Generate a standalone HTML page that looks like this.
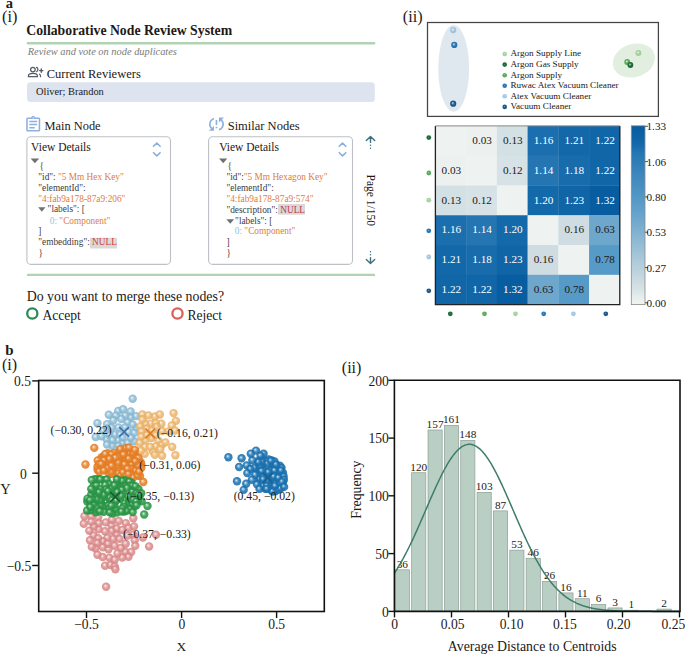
<!DOCTYPE html>
<html><head><meta charset="utf-8"><style>
html,body{margin:0;padding:0;background:#fff;}
body{width:685px;height:654px;overflow:hidden;}
svg{display:block;font-family:"Liberation Serif",serif;}
</style></head><body>
<svg width="685" height="654" viewBox="0 0 685 654">
<defs><radialGradient id="s_lg" cx="0.5" cy="0.5" r="0.5" fx="0.4" fy="0.36"><stop offset="0" stop-color="#f6fbf6"/><stop offset="0.25" stop-color="#cae5c6"/><stop offset="0.55" stop-color="#a6d3a0"/><stop offset="1" stop-color="#9cc696"/></radialGradient><radialGradient id="d_lg" cx="0.5" cy="0.5" r="0.5" fx="0.42" fy="0.38"><stop offset="0" stop-color="#cee7cb"/><stop offset="0.3" stop-color="#a6d3a0"/><stop offset="1" stop-color="#a6d3a0"/></radialGradient><radialGradient id="s_dg" cx="0.5" cy="0.5" r="0.5" fx="0.4" fy="0.36"><stop offset="0" stop-color="#e8f0eb"/><stop offset="0.25" stop-color="#78a689"/><stop offset="0.55" stop-color="#1e6b3a"/><stop offset="1" stop-color="#1c6537"/></radialGradient><radialGradient id="d_dg" cx="0.5" cy="0.5" r="0.5" fx="0.42" fy="0.38"><stop offset="0" stop-color="#83ae93"/><stop offset="0.3" stop-color="#1e6b3a"/><stop offset="1" stop-color="#1e6b3a"/></radialGradient><radialGradient id="s_mg" cx="0.5" cy="0.5" r="0.5" fx="0.4" fy="0.36"><stop offset="0" stop-color="#eef7ee"/><stop offset="0.25" stop-color="#9cce9c"/><stop offset="0.55" stop-color="#5aae5a"/><stop offset="1" stop-color="#55a455"/></radialGradient><radialGradient id="d_mg" cx="0.5" cy="0.5" r="0.5" fx="0.42" fy="0.38"><stop offset="0" stop-color="#a4d2a4"/><stop offset="0.3" stop-color="#5aae5a"/><stop offset="1" stop-color="#5aae5a"/></radialGradient><radialGradient id="s_rb" cx="0.5" cy="0.5" r="0.5" fx="0.4" fy="0.36"><stop offset="0" stop-color="#eaf2f8"/><stop offset="0.25" stop-color="#7faed4"/><stop offset="0.55" stop-color="#2a78b8"/><stop offset="1" stop-color="#2771ad"/></radialGradient><radialGradient id="d_rb" cx="0.5" cy="0.5" r="0.5" fx="0.42" fy="0.38"><stop offset="0" stop-color="#8ab5d8"/><stop offset="0.3" stop-color="#2a78b8"/><stop offset="1" stop-color="#2a78b8"/></radialGradient><radialGradient id="s_lb" cx="0.5" cy="0.5" r="0.5" fx="0.4" fy="0.36"><stop offset="0" stop-color="#f6fafc"/><stop offset="0.25" stop-color="#c8dfee"/><stop offset="0.55" stop-color="#a3c9e3"/><stop offset="1" stop-color="#99bdd5"/></radialGradient><radialGradient id="d_lb" cx="0.5" cy="0.5" r="0.5" fx="0.42" fy="0.38"><stop offset="0" stop-color="#cce1f0"/><stop offset="0.3" stop-color="#a3c9e3"/><stop offset="1" stop-color="#a3c9e3"/></radialGradient><radialGradient id="s_db" cx="0.5" cy="0.5" r="0.5" fx="0.4" fy="0.36"><stop offset="0" stop-color="#e9eef3"/><stop offset="0.25" stop-color="#799cb9"/><stop offset="0.55" stop-color="#1f5a8a"/><stop offset="1" stop-color="#1d5582"/></radialGradient><radialGradient id="d_db" cx="0.5" cy="0.5" r="0.5" fx="0.42" fy="0.38"><stop offset="0" stop-color="#84a4bf"/><stop offset="0.3" stop-color="#1f5a8a"/><stop offset="1" stop-color="#1f5a8a"/></radialGradient><linearGradient id="cbar" x1="0" y1="0" x2="0" y2="1"><stop offset="0.0000" stop-color="#075c9f"/><stop offset="0.0167" stop-color="#095ea1"/><stop offset="0.0333" stop-color="#0b60a3"/><stop offset="0.0500" stop-color="#0d62a4"/><stop offset="0.0667" stop-color="#0f64a6"/><stop offset="0.0833" stop-color="#1166a8"/><stop offset="0.1000" stop-color="#1569aa"/><stop offset="0.1167" stop-color="#196dad"/><stop offset="0.1333" stop-color="#1f71af"/><stop offset="0.1500" stop-color="#2576b3"/><stop offset="0.1667" stop-color="#2878b4"/><stop offset="0.1833" stop-color="#2b7bb5"/><stop offset="0.2000" stop-color="#2f7db6"/><stop offset="0.2167" stop-color="#327fb8"/><stop offset="0.2333" stop-color="#3581b9"/><stop offset="0.2500" stop-color="#3884ba"/><stop offset="0.2667" stop-color="#3b86bc"/><stop offset="0.2833" stop-color="#3e88bd"/><stop offset="0.3000" stop-color="#418abe"/><stop offset="0.3167" stop-color="#448dbf"/><stop offset="0.3333" stop-color="#478fc1"/><stop offset="0.3500" stop-color="#4a91c2"/><stop offset="0.3667" stop-color="#4d94c3"/><stop offset="0.3833" stop-color="#5096c5"/><stop offset="0.4000" stop-color="#5498c6"/><stop offset="0.4167" stop-color="#579ac7"/><stop offset="0.4333" stop-color="#5a9cc8"/><stop offset="0.4500" stop-color="#5e9ec9"/><stop offset="0.4667" stop-color="#61a0c9"/><stop offset="0.4833" stop-color="#65a2ca"/><stop offset="0.5000" stop-color="#68a4cb"/><stop offset="0.5167" stop-color="#6ca6cc"/><stop offset="0.5333" stop-color="#70a8cc"/><stop offset="0.5500" stop-color="#75abcd"/><stop offset="0.5667" stop-color="#79adcf"/><stop offset="0.5833" stop-color="#7eb0d0"/><stop offset="0.6000" stop-color="#82b2d1"/><stop offset="0.6167" stop-color="#87b5d2"/><stop offset="0.6333" stop-color="#8bb7d3"/><stop offset="0.6500" stop-color="#90bad4"/><stop offset="0.6667" stop-color="#95bcd5"/><stop offset="0.6833" stop-color="#99bfd6"/><stop offset="0.7000" stop-color="#9ec1d7"/><stop offset="0.7167" stop-color="#a2c4d8"/><stop offset="0.7333" stop-color="#a7c6d9"/><stop offset="0.7500" stop-color="#abc9da"/><stop offset="0.7667" stop-color="#b0cbdb"/><stop offset="0.7833" stop-color="#b5cedc"/><stop offset="0.8000" stop-color="#b9d0dd"/><stop offset="0.8167" stop-color="#bed3de"/><stop offset="0.8333" stop-color="#c2d5df"/><stop offset="0.8500" stop-color="#c7d8e0"/><stop offset="0.8667" stop-color="#cbdae1"/><stop offset="0.8833" stop-color="#d0dde2"/><stop offset="0.9000" stop-color="#d3e0e4"/><stop offset="0.9167" stop-color="#d8e3e6"/><stop offset="0.9333" stop-color="#dde7e9"/><stop offset="0.9500" stop-color="#e3ebec"/><stop offset="0.9667" stop-color="#e8efee"/><stop offset="0.9833" stop-color="#edf1f0"/><stop offset="1.0000" stop-color="#eef2f1"/></linearGradient><radialGradient id="c_pink" cx="0.5" cy="0.5" r="0.5" fx="0.4" fy="0.36"><stop offset="0" stop-color="#fcf4f4"/><stop offset="0.25" stop-color="#ecbbbb"/><stop offset="0.55" stop-color="#df8e8e"/><stop offset="1" stop-color="#d28585"/></radialGradient><radialGradient id="c_lblue" cx="0.5" cy="0.5" r="0.5" fx="0.4" fy="0.36"><stop offset="0" stop-color="#f4f8fb"/><stop offset="0.25" stop-color="#bbd8e8"/><stop offset="0.55" stop-color="#8ebed8"/><stop offset="1" stop-color="#85b3cb"/></radialGradient><radialGradient id="c_lorange" cx="0.5" cy="0.5" r="0.5" fx="0.4" fy="0.36"><stop offset="0" stop-color="#fef8f1"/><stop offset="0.25" stop-color="#f6d5a9"/><stop offset="0.55" stop-color="#f0b970"/><stop offset="1" stop-color="#e2ae69"/></radialGradient><radialGradient id="c_orange" cx="0.5" cy="0.5" r="0.5" fx="0.4" fy="0.36"><stop offset="0" stop-color="#fdf2ea"/><stop offset="0.25" stop-color="#f2b47e"/><stop offset="0.55" stop-color="#ea8228"/><stop offset="1" stop-color="#dc7a26"/></radialGradient><radialGradient id="c_green" cx="0.5" cy="0.5" r="0.5" fx="0.4" fy="0.36"><stop offset="0" stop-color="#eaf5ed"/><stop offset="0.25" stop-color="#80c291"/><stop offset="0.55" stop-color="#2b9947"/><stop offset="1" stop-color="#289043"/></radialGradient><radialGradient id="c_blue" cx="0.5" cy="0.5" r="0.5" fx="0.4" fy="0.36"><stop offset="0" stop-color="#e8f1f8"/><stop offset="0.25" stop-color="#77acd2"/><stop offset="0.55" stop-color="#1c74b4"/><stop offset="1" stop-color="#1a6da9"/></radialGradient></defs>
<text x="5.80" y="7.50" font-size="14.5" fill="#231815" font-weight="bold">a</text>
<text x="2.00" y="21.90" font-size="16.3" fill="#231815">(i)</text>
<text x="402.80" y="21.70" font-size="16.2" fill="#231815">(ii)</text>
<text x="5.20" y="355.00" font-size="15" fill="#231815" font-weight="bold">b</text>
<text x="2.00" y="369.60" font-size="16.0" fill="#231815">(i)</text>
<text x="341.80" y="373.30" font-size="16.0" fill="#231815">(ii)</text>
<text x="26.30" y="34.60" font-size="13.75" fill="#231815" font-weight="bold">Collaborative Node Review System</text>
<line x1="28" y1="43.3" x2="374" y2="43.3" stroke="#b1d3b3" stroke-width="2.6" stroke-linecap="round"/>
<text x="27.70" y="54.60" font-size="10.4" fill="#7a7a7a" font-style="italic">Review and vote on node duplicates</text>
<g fill="none" stroke="#555c66" stroke-width="1.25" stroke-linecap="round"><circle cx="32.9" cy="69.6" r="2.3"/><path d="M28.4 76.6 v-0.8 c0-1.6 2.2-2.4 4.5-2.4 s4.5 0.8 4.5 2.4 v0.8 z"/><path d="M36.6 67.4 a2.4 2.4 0 0 1 0 4.3"/><path d="M39.6 74.2 c0.7 0.5 0.9 1.1 0.9 1.7 v0.8"/><path d="M41.3 69.0 v3.2 M39.7 70.6 h3.2" stroke-width="1.45"/></g>
<text x="46.70" y="77.60" font-size="12.5" fill="#231815">Current Reviewers</text>
<rect x="27" y="82.3" width="347.8" height="19.8" rx="3.5" fill="#dde3ef"/>
<text x="36.00" y="94.90" font-size="10.4" fill="#231815">Oliver; Brandon</text>
<g transform="translate(23.86,115.2) scale(0.78)" fill="#8fb0de"><path d="M7 15h7v2H7zm0-4h10v2H7zm0-4h10v2H7zm12-4h-4.18C14.4 1.84 13.3 1 12 1c-1.3 0-2.4.84-2.82 2H5c-.14 0-.27.01-.4.04-.39.08-.74.28-1.01.55-.18.18-.33.4-.43.64-.1.23-.16.49-.16.77v14c0 .27.06.54.16.78s.25.45.43.64c.27.27.62.47 1.01.55.13.02.26.03.4.03h14c1.1 0 2-.9 2-2V5c0-1.1-.9-2-2-2zm-7-.25c.41 0 .75.34.75.75s-.34.75-.75.75-.75-.34-.75-.75.34-.75.75-.75zM19 19H5V5h14v14z"/></g>
<text x="44.50" y="129.60" font-size="12.4" fill="#231815">Main Node</text>
<g transform="translate(206.5,114.2) scale(0.83)" fill="#8fb0de"><path d="M3 12c0 2.21.91 4.2 2.36 5.64L3 20h6v-6l-2.24 2.24C5.68 15.15 5 13.66 5 12c0-2.61 1.67-4.830 4-5.65V4.26C5.55 5.15 3 8.27 3 12zm8 5h2v-2h-2v2zM21 4h-6v6l2.24-2.24C18.32 8.85 19 10.340 19 12c0 2.61-1.67 4.83-4 5.65v2.09c3.45-.89 6-4.01 6-7.74 0-2.21-.91-4.2-2.36-5.64L21 4zm-10 9h2V7h-2v6z"/></g>
<text x="227.70" y="129.60" font-size="12.5" fill="#231815">Similar Nodes</text>
<rect x="26.9" y="136.8" width="143.6" height="127.6" rx="4" fill="#fff" stroke="#bdc1c5" stroke-width="1.1"/>
<rect x="208.6" y="136.8" width="143.9" height="127.6" rx="4" fill="#fff" stroke="#bdc1c5" stroke-width="1.1"/>
<g fill="none" stroke="#8aaedc" stroke-width="1.6" stroke-linecap="round" stroke-linejoin="round"><path d="M153.5 146.3 L156.8 143.1 L160.10000000000002 146.3"/><path d="M153.5 152.7 L156.8 155.9 L160.10000000000002 152.7"/></g>
<g fill="none" stroke="#8aaedc" stroke-width="1.6" stroke-linecap="round" stroke-linejoin="round"><path d="M339.2 146.3 L342.5 143.1 L345.8 146.3"/><path d="M339.2 152.7 L342.5 155.9 L345.8 152.7"/></g>
<text x="31.10" y="150.90" font-size="11.5" fill="#231815">View Details</text>
<text x="219.20" y="150.90" font-size="11.5" fill="#231815">View Details</text>
<path d="M30.6 158.4 L39.2 158.4 L34.900000000000006 163.3 Z" fill="#707070"/>
<text x="39.4" y="168.9" font-size="9.3" xml:space="preserve"><tspan fill="#3c3c3c">{</tspan></text>
<text x="38.3" y="179.9" font-size="9.3" xml:space="preserve"><tspan fill="#3c3c3c">"id": </tspan><tspan fill="#dd7d3f">"5 Mm Hex Key"</tspan></text>
<text x="38.3" y="190.8" font-size="9.3" xml:space="preserve"><tspan fill="#3c3c3c">"elementId":</tspan></text>
<text x="38.3" y="201.6" font-size="9.3" xml:space="preserve"><tspan fill="#dd7d3f">"4:fab9a178-87a9:206"</tspan></text>
<path d="M38.2 207.3 L45.5 207.3 L41.85 211.8 Z" fill="#707070"/>
<text x="47.6" y="212.4" font-size="9.3" xml:space="preserve"><tspan fill="#3c3c3c">"labels": [</tspan></text>
<text x="49.8" y="223.5" font-size="9.3" xml:space="preserve"><tspan fill="#8dc3e6">0: </tspan><tspan fill="#dd7d3f">"Component"</tspan></text>
<text x="38.3" y="234.4" font-size="9.3" xml:space="preserve"><tspan fill="#3c3c3c">]</tspan></text>
<rect x="90" y="237.8" width="27" height="10.7" fill="#d9d9d9"/>
<text x="38.3" y="245.2" font-size="9.3" xml:space="preserve"><tspan fill="#3c3c3c">"embedding": </tspan><tspan fill="#dd3a3a">NULL</tspan></text>
<text x="38.6" y="256.1" font-size="9.3" xml:space="preserve"><tspan fill="#3c3c3c">}</tspan></text>
<path d="M219.1 158.5 L227.3 158.5 L223.2 163.3 Z" fill="#707070"/>
<text x="227.5" y="169.2" font-size="9.3" xml:space="preserve"><tspan fill="#3c3c3c">{</tspan></text>
<text x="226.4" y="180.1" font-size="9.3" xml:space="preserve"><tspan fill="#3c3c3c">"id":</tspan><tspan fill="#dd7d3f">"5 Mm Hexagon Key"</tspan></text>
<text x="226.4" y="190.8" font-size="9.3" xml:space="preserve"><tspan fill="#3c3c3c">"elementId":</tspan></text>
<text x="226.4" y="201.6" font-size="9.3" xml:space="preserve"><tspan fill="#dd7d3f">"4:fab9a178-87a9:574"</tspan></text>
<rect x="278" y="204" width="27" height="10.7" fill="#d9d9d9"/>
<text x="226.4" y="212.5" font-size="9.3" xml:space="preserve"><tspan fill="#3c3c3c">"description": </tspan><tspan fill="#c9364a">NULL</tspan></text>
<path d="M226.4 219.3 L234.1 219.3 L230.25 223.8 Z" fill="#707070"/>
<text x="235.1" y="224.0" font-size="9.3" xml:space="preserve"><tspan fill="#3c3c3c">"labels": [</tspan></text>
<text x="234.8" y="234.2" font-size="9.3" xml:space="preserve"><tspan fill="#8dc3e6">0: </tspan><tspan fill="#dd7d3f">"Component"</tspan></text>
<text x="226.4" y="245.3" font-size="9.3" xml:space="preserve"><tspan fill="#3c3c3c">]</tspan></text>
<text x="226.6" y="256.3" font-size="9.3" xml:space="preserve"><tspan fill="#3c3c3c">}</tspan></text>
<g fill="none" stroke="#3f6f80" stroke-width="1.4" stroke-linecap="round" stroke-linejoin="round"><path d="M366.3 140.6 L370.5 136.5 L374.7 140.6 M370.5 136.8 V142.4"/><path d="M366.3 259.6 L370.5 263.6 L374.7 259.6 M370.5 263.3 V257.6"/></g>
<g fill="#3f6f80"><circle cx="370.5" cy="145.3" r="0.75"/><circle cx="370.5" cy="148.3" r="0.75"/><circle cx="370.5" cy="254.7" r="0.75"/><circle cx="370.5" cy="251.8" r="0.75"/></g>
<text x="0.00" y="0.00" font-size="11.5" fill="#231815" transform="translate(366.6,174.6) rotate(90)">Page 1/150</text>
<line x1="28" y1="274.9" x2="374" y2="274.9" stroke="#b1d3b3" stroke-width="2.4" stroke-linecap="round"/>
<text x="26.70" y="300.90" font-size="13.85" fill="#231815">Do you want to merge these nodes?</text>
<circle cx="32.3" cy="313.5" r="5.1" fill="none" stroke="#2e8b57" stroke-width="2.3"/>
<text x="42.40" y="319.70" font-size="13.6" fill="#231815">Accept</text>
<circle cx="177.5" cy="313.5" r="5.1" fill="none" stroke="#d9615a" stroke-width="2.3"/>
<text x="187.40" y="319.70" font-size="13.6" fill="#231815">Reject</text>
<rect x="427.5" y="22.5" width="230.9" height="93.9" fill="none" stroke="#444" stroke-width="1.25"/>
<ellipse cx="453.7" cy="68.4" rx="15.4" ry="43.4" fill="#dfe8ef"/>
<ellipse cx="633.9" cy="60.5" rx="21.5" ry="16.5" fill="#e2eee0" transform="rotate(-18 633.9 60.5)"/>
<circle cx="453.2" cy="30.1" r="3.1" fill="url(#s_lb)"/>
<circle cx="454.3" cy="44.9" r="3.1" fill="url(#s_rb)"/>
<circle cx="453.2" cy="103.7" r="3.1" fill="url(#s_db)"/>
<circle cx="638.4" cy="52.9" r="2.9" fill="url(#s_lg)"/>
<circle cx="627.2" cy="62.0" r="2.9" fill="url(#s_mg)"/>
<circle cx="630.4" cy="65.0" r="2.9" fill="url(#s_dg)"/>
<circle cx="504.7" cy="54.0" r="2.3" fill="url(#d_lg)"/>
<text x="510.40" y="56.40" font-size="9.2" fill="#231815">Argon Supply Line</text>
<circle cx="504.7" cy="64.6" r="2.3" fill="url(#d_dg)"/>
<text x="510.40" y="66.98" font-size="9.2" fill="#231815">Argon Gas Supply</text>
<circle cx="504.7" cy="75.2" r="2.3" fill="url(#d_mg)"/>
<text x="510.40" y="77.56" font-size="9.2" fill="#231815">Argon Supply</text>
<circle cx="504.7" cy="85.7" r="2.3" fill="url(#d_rb)"/>
<text x="510.40" y="88.14" font-size="9.2" fill="#231815">Ruwac Atex Vacuum Cleaner</text>
<circle cx="504.7" cy="96.3" r="2.3" fill="url(#d_lb)"/>
<text x="510.40" y="98.72" font-size="9.2" fill="#231815">Atex Vacuum Cleaner</text>
<circle cx="504.7" cy="106.9" r="2.3" fill="url(#d_db)"/>
<text x="510.40" y="109.30" font-size="9.2" fill="#231815">Vacuum Cleaner</text>
<rect x="435.40" y="125.90" width="31.03" height="30.08" fill="#eef2f1"/>
<rect x="466.13" y="125.90" width="31.03" height="30.08" fill="#ecf1f0"/>
<rect x="496.87" y="125.90" width="31.03" height="30.08" fill="#d3e0e4"/>
<rect x="527.60" y="125.90" width="31.03" height="30.08" fill="#1c6fae"/>
<rect x="558.33" y="125.90" width="31.03" height="30.08" fill="#1368a9"/>
<rect x="589.07" y="125.90" width="31.03" height="30.08" fill="#1166a8"/>
<rect x="435.40" y="155.68" width="31.03" height="30.08" fill="#ecf1f0"/>
<rect x="466.13" y="155.68" width="31.03" height="30.08" fill="#eef2f1"/>
<rect x="496.87" y="155.68" width="31.03" height="30.08" fill="#d6e2e5"/>
<rect x="527.60" y="155.68" width="31.03" height="30.08" fill="#2475b2"/>
<rect x="558.33" y="155.68" width="31.03" height="30.08" fill="#186cac"/>
<rect x="589.07" y="155.68" width="31.03" height="30.08" fill="#1166a8"/>
<rect x="435.40" y="185.47" width="31.03" height="30.08" fill="#d3e0e4"/>
<rect x="466.13" y="185.47" width="31.03" height="30.08" fill="#d6e2e5"/>
<rect x="496.87" y="185.47" width="31.03" height="30.08" fill="#eef2f1"/>
<rect x="527.60" y="185.47" width="31.03" height="30.08" fill="#1469aa"/>
<rect x="558.33" y="185.47" width="31.03" height="30.08" fill="#1065a7"/>
<rect x="589.07" y="185.47" width="31.03" height="30.08" fill="#085da0"/>
<rect x="435.40" y="215.25" width="31.03" height="30.08" fill="#1c6fae"/>
<rect x="466.13" y="215.25" width="31.03" height="30.08" fill="#2475b2"/>
<rect x="496.87" y="215.25" width="31.03" height="30.08" fill="#1469aa"/>
<rect x="527.60" y="215.25" width="31.03" height="30.08" fill="#eef2f1"/>
<rect x="558.33" y="215.25" width="31.03" height="30.08" fill="#cfdce2"/>
<rect x="589.07" y="215.25" width="31.03" height="30.08" fill="#6ea7cc"/>
<rect x="435.40" y="245.03" width="31.03" height="30.08" fill="#1368a9"/>
<rect x="466.13" y="245.03" width="31.03" height="30.08" fill="#186cac"/>
<rect x="496.87" y="245.03" width="31.03" height="30.08" fill="#1065a7"/>
<rect x="527.60" y="245.03" width="31.03" height="30.08" fill="#cfdce2"/>
<rect x="558.33" y="245.03" width="31.03" height="30.08" fill="#eef2f1"/>
<rect x="589.07" y="245.03" width="31.03" height="30.08" fill="#569ac7"/>
<rect x="435.40" y="274.82" width="31.03" height="30.08" fill="#1166a8"/>
<rect x="466.13" y="274.82" width="31.03" height="30.08" fill="#1166a8"/>
<rect x="496.87" y="274.82" width="31.03" height="30.08" fill="#085da0"/>
<rect x="527.60" y="274.82" width="31.03" height="30.08" fill="#6ea7cc"/>
<rect x="558.33" y="274.82" width="31.03" height="30.08" fill="#569ac7"/>
<rect x="589.07" y="274.82" width="31.03" height="30.08" fill="#eef2f1"/>
<text x="482.10" y="143.99" font-size="11.2" fill="#231815" text-anchor="middle">0.03</text>
<text x="512.83" y="143.99" font-size="11.2" fill="#231815" text-anchor="middle">0.13</text>
<text x="543.57" y="143.99" font-size="11.2" fill="#ffffff" text-anchor="middle">1.16</text>
<text x="574.30" y="143.99" font-size="11.2" fill="#ffffff" text-anchor="middle">1.21</text>
<text x="605.03" y="143.99" font-size="11.2" fill="#ffffff" text-anchor="middle">1.22</text>
<text x="451.37" y="173.78" font-size="11.2" fill="#231815" text-anchor="middle">0.03</text>
<text x="512.83" y="173.78" font-size="11.2" fill="#231815" text-anchor="middle">0.12</text>
<text x="543.57" y="173.78" font-size="11.2" fill="#ffffff" text-anchor="middle">1.14</text>
<text x="574.30" y="173.78" font-size="11.2" fill="#ffffff" text-anchor="middle">1.18</text>
<text x="605.03" y="173.78" font-size="11.2" fill="#ffffff" text-anchor="middle">1.22</text>
<text x="451.37" y="203.56" font-size="11.2" fill="#231815" text-anchor="middle">0.13</text>
<text x="482.10" y="203.56" font-size="11.2" fill="#231815" text-anchor="middle">0.12</text>
<text x="543.57" y="203.56" font-size="11.2" fill="#ffffff" text-anchor="middle">1.20</text>
<text x="574.30" y="203.56" font-size="11.2" fill="#ffffff" text-anchor="middle">1.23</text>
<text x="605.03" y="203.56" font-size="11.2" fill="#ffffff" text-anchor="middle">1.32</text>
<text x="451.37" y="233.34" font-size="11.2" fill="#ffffff" text-anchor="middle">1.16</text>
<text x="482.10" y="233.34" font-size="11.2" fill="#ffffff" text-anchor="middle">1.14</text>
<text x="512.83" y="233.34" font-size="11.2" fill="#ffffff" text-anchor="middle">1.20</text>
<text x="574.30" y="233.34" font-size="11.2" fill="#231815" text-anchor="middle">0.16</text>
<text x="605.03" y="233.34" font-size="11.2" fill="#231815" text-anchor="middle">0.63</text>
<text x="451.37" y="263.12" font-size="11.2" fill="#ffffff" text-anchor="middle">1.21</text>
<text x="482.10" y="263.12" font-size="11.2" fill="#ffffff" text-anchor="middle">1.18</text>
<text x="512.83" y="263.12" font-size="11.2" fill="#ffffff" text-anchor="middle">1.23</text>
<text x="543.57" y="263.12" font-size="11.2" fill="#231815" text-anchor="middle">0.16</text>
<text x="605.03" y="263.12" font-size="11.2" fill="#231815" text-anchor="middle">0.78</text>
<text x="451.37" y="292.91" font-size="11.2" fill="#ffffff" text-anchor="middle">1.22</text>
<text x="482.10" y="292.91" font-size="11.2" fill="#ffffff" text-anchor="middle">1.22</text>
<text x="512.83" y="292.91" font-size="11.2" fill="#ffffff" text-anchor="middle">1.32</text>
<text x="543.57" y="292.91" font-size="11.2" fill="#231815" text-anchor="middle">0.63</text>
<text x="574.30" y="292.91" font-size="11.2" fill="#231815" text-anchor="middle">0.78</text>
<path d="M435.4 125.9 V304.6 H619.8 V125.9" fill="none" stroke="#222" stroke-width="1.3"/>
<line x1="435.4" y1="125.9" x2="619.8" y2="125.9" stroke="#888" stroke-width="1"/>
<circle cx="428.8" cy="137.6" r="2.4" fill="url(#d_dg)"/>
<circle cx="428.8" cy="173.0" r="2.4" fill="url(#d_mg)"/>
<circle cx="428.8" cy="200.2" r="2.4" fill="url(#d_lg)"/>
<circle cx="428.8" cy="230.8" r="2.4" fill="url(#d_rb)"/>
<circle cx="428.8" cy="257.0" r="2.4" fill="url(#d_lb)"/>
<circle cx="428.8" cy="290.8" r="2.4" fill="url(#d_db)"/>
<circle cx="450.3" cy="313.8" r="2.4" fill="url(#d_dg)"/>
<circle cx="484.5" cy="313.8" r="2.4" fill="url(#d_mg)"/>
<circle cx="515.5" cy="313.8" r="2.4" fill="url(#d_lg)"/>
<circle cx="543.7" cy="313.8" r="2.4" fill="url(#d_rb)"/>
<circle cx="573.4" cy="313.8" r="2.4" fill="url(#d_lb)"/>
<circle cx="605.8" cy="313.8" r="2.4" fill="url(#d_db)"/>
<rect x="631.3" y="125.8" width="13.700000000000045" height="178.8" fill="url(#cbar)" stroke="#8a8a8a" stroke-width="0.8"/>
<line x1="645.0" y1="126.30" x2="648.0" y2="126.30" stroke="#555" stroke-width="1"/>
<text x="646.50" y="130.30" font-size="11.2" fill="#231815">1.33</text>
<line x1="645.0" y1="161.60" x2="648.0" y2="161.60" stroke="#555" stroke-width="1"/>
<text x="646.50" y="165.60" font-size="11.2" fill="#231815">1.06</text>
<line x1="645.0" y1="196.90" x2="648.0" y2="196.90" stroke="#555" stroke-width="1"/>
<text x="646.50" y="200.90" font-size="11.2" fill="#231815">0.80</text>
<line x1="645.0" y1="232.20" x2="648.0" y2="232.20" stroke="#555" stroke-width="1"/>
<text x="646.50" y="236.20" font-size="11.2" fill="#231815">0.53</text>
<line x1="645.0" y1="267.50" x2="648.0" y2="267.50" stroke="#555" stroke-width="1"/>
<text x="646.50" y="271.50" font-size="11.2" fill="#231815">0.27</text>
<line x1="645.0" y1="302.80" x2="648.0" y2="302.80" stroke="#555" stroke-width="1"/>
<text x="646.50" y="306.80" font-size="11.2" fill="#231815">0.00</text>
<circle cx="98.7" cy="529.3" r="4.2" fill="url(#c_pink)" fill-opacity="0.88"/>
<circle cx="125.8" cy="523.1" r="4.2" fill="url(#c_pink)" fill-opacity="0.88"/>
<circle cx="109.4" cy="557.8" r="4.2" fill="url(#c_pink)" fill-opacity="0.88"/>
<circle cx="102.7" cy="557.0" r="4.2" fill="url(#c_pink)" fill-opacity="0.88"/>
<circle cx="111.4" cy="525.2" r="4.2" fill="url(#c_pink)" fill-opacity="0.88"/>
<circle cx="107.4" cy="537.8" r="4.2" fill="url(#c_pink)" fill-opacity="0.88"/>
<circle cx="114.7" cy="559.8" r="4.2" fill="url(#c_pink)" fill-opacity="0.88"/>
<circle cx="125.5" cy="551.9" r="4.2" fill="url(#c_pink)" fill-opacity="0.88"/>
<circle cx="93.6" cy="535.4" r="4.2" fill="url(#c_pink)" fill-opacity="0.88"/>
<circle cx="133.2" cy="534.6" r="4.2" fill="url(#c_pink)" fill-opacity="0.88"/>
<circle cx="102.8" cy="541.2" r="4.2" fill="url(#c_pink)" fill-opacity="0.88"/>
<circle cx="94.0" cy="526.5" r="4.2" fill="url(#c_pink)" fill-opacity="0.88"/>
<circle cx="116.4" cy="534.2" r="4.2" fill="url(#c_pink)" fill-opacity="0.88"/>
<circle cx="84.5" cy="516.2" r="4.2" fill="url(#c_pink)" fill-opacity="0.88"/>
<circle cx="91.3" cy="516.2" r="4.2" fill="url(#c_pink)" fill-opacity="0.88"/>
<circle cx="98.2" cy="517.6" r="4.2" fill="url(#c_pink)" fill-opacity="0.88"/>
<circle cx="83.8" cy="523.8" r="4.2" fill="url(#c_pink)" fill-opacity="0.88"/>
<circle cx="91.3" cy="521.7" r="4.2" fill="url(#c_pink)" fill-opacity="0.88"/>
<circle cx="98.9" cy="523.1" r="4.2" fill="url(#c_pink)" fill-opacity="0.88"/>
<circle cx="105.8" cy="522.4" r="4.2" fill="url(#c_pink)" fill-opacity="0.88"/>
<circle cx="112.0" cy="519.7" r="4.2" fill="url(#c_pink)" fill-opacity="0.88"/>
<circle cx="118.8" cy="521.0" r="4.2" fill="url(#c_pink)" fill-opacity="0.88"/>
<circle cx="89.3" cy="530.7" r="4.2" fill="url(#c_pink)" fill-opacity="0.88"/>
<circle cx="105.1" cy="531.3" r="4.2" fill="url(#c_pink)" fill-opacity="0.88"/>
<circle cx="112.0" cy="530.7" r="4.2" fill="url(#c_pink)" fill-opacity="0.88"/>
<circle cx="116.8" cy="528.6" r="4.2" fill="url(#c_pink)" fill-opacity="0.88"/>
<circle cx="122.3" cy="530.0" r="4.2" fill="url(#c_pink)" fill-opacity="0.88"/>
<circle cx="128.5" cy="527.9" r="4.2" fill="url(#c_pink)" fill-opacity="0.88"/>
<circle cx="134.0" cy="526.5" r="4.2" fill="url(#c_pink)" fill-opacity="0.88"/>
<circle cx="133.3" cy="518.3" r="4.2" fill="url(#c_pink)" fill-opacity="0.88"/>
<circle cx="90.0" cy="540.3" r="4.2" fill="url(#c_pink)" fill-opacity="0.88"/>
<circle cx="98.2" cy="538.2" r="4.2" fill="url(#c_pink)" fill-opacity="0.88"/>
<circle cx="97.5" cy="543.0" r="4.2" fill="url(#c_pink)" fill-opacity="0.88"/>
<circle cx="103.0" cy="547.2" r="4.2" fill="url(#c_pink)" fill-opacity="0.88"/>
<circle cx="95.5" cy="548.5" r="4.2" fill="url(#c_pink)" fill-opacity="0.88"/>
<circle cx="108.5" cy="549.2" r="4.2" fill="url(#c_pink)" fill-opacity="0.88"/>
<circle cx="107.8" cy="543.7" r="4.2" fill="url(#c_pink)" fill-opacity="0.88"/>
<circle cx="113.3" cy="538.9" r="4.2" fill="url(#c_pink)" fill-opacity="0.88"/>
<circle cx="119.5" cy="538.9" r="4.2" fill="url(#c_pink)" fill-opacity="0.88"/>
<circle cx="114.7" cy="545.8" r="4.2" fill="url(#c_pink)" fill-opacity="0.88"/>
<circle cx="120.9" cy="547.9" r="4.2" fill="url(#c_pink)" fill-opacity="0.88"/>
<circle cx="125.7" cy="543.7" r="4.2" fill="url(#c_pink)" fill-opacity="0.88"/>
<circle cx="127.8" cy="535.5" r="4.2" fill="url(#c_pink)" fill-opacity="0.88"/>
<circle cx="134.7" cy="540.3" r="4.2" fill="url(#c_pink)" fill-opacity="0.88"/>
<circle cx="135.3" cy="545.8" r="4.2" fill="url(#c_pink)" fill-opacity="0.88"/>
<circle cx="131.2" cy="552.0" r="4.2" fill="url(#c_pink)" fill-opacity="0.88"/>
<circle cx="128.5" cy="556.8" r="4.2" fill="url(#c_pink)" fill-opacity="0.88"/>
<circle cx="122.3" cy="557.5" r="4.2" fill="url(#c_pink)" fill-opacity="0.88"/>
<circle cx="117.5" cy="553.4" r="4.2" fill="url(#c_pink)" fill-opacity="0.88"/>
<circle cx="97.5" cy="554.7" r="4.2" fill="url(#c_pink)" fill-opacity="0.88"/>
<circle cx="105.1" cy="565.7" r="4.2" fill="url(#c_pink)" fill-opacity="0.88"/>
<circle cx="110.6" cy="565.0" r="4.2" fill="url(#c_pink)" fill-opacity="0.88"/>
<circle cx="114.7" cy="566.4" r="4.2" fill="url(#c_pink)" fill-opacity="0.88"/>
<circle cx="115.4" cy="569.2" r="4.2" fill="url(#c_pink)" fill-opacity="0.88"/>
<circle cx="106.1" cy="586.8" r="4.2" fill="url(#c_pink)" fill-opacity="0.88"/>
<circle cx="149.1" cy="546.5" r="4.2" fill="url(#c_pink)" fill-opacity="0.88"/>
<circle cx="156.0" cy="534.8" r="4.2" fill="url(#c_pink)" fill-opacity="0.88"/>
<circle cx="142.9" cy="537.5" r="4.2" fill="url(#c_pink)" fill-opacity="0.88"/>
<circle cx="91.8" cy="546.9" r="4.2" fill="url(#c_pink)" fill-opacity="0.88"/>
<circle cx="106.7" cy="439.2" r="4.2" fill="url(#c_lblue)" fill-opacity="0.88"/>
<circle cx="118.3" cy="440.3" r="4.2" fill="url(#c_lblue)" fill-opacity="0.88"/>
<circle cx="130.7" cy="417.2" r="4.2" fill="url(#c_lblue)" fill-opacity="0.88"/>
<circle cx="112.2" cy="445.5" r="4.2" fill="url(#c_lblue)" fill-opacity="0.88"/>
<circle cx="109.9" cy="435.2" r="4.2" fill="url(#c_lblue)" fill-opacity="0.88"/>
<circle cx="102.9" cy="430.7" r="4.2" fill="url(#c_lblue)" fill-opacity="0.88"/>
<circle cx="136.4" cy="428.0" r="4.2" fill="url(#c_lblue)" fill-opacity="0.88"/>
<circle cx="118.2" cy="411.0" r="4.2" fill="url(#c_lblue)" fill-opacity="0.88"/>
<circle cx="122.6" cy="443.1" r="4.2" fill="url(#c_lblue)" fill-opacity="0.88"/>
<circle cx="132.7" cy="398.8" r="4.2" fill="url(#c_lblue)" fill-opacity="0.88"/>
<circle cx="108.8" cy="414.8" r="4.2" fill="url(#c_lblue)" fill-opacity="0.88"/>
<circle cx="115.9" cy="415.6" r="4.2" fill="url(#c_lblue)" fill-opacity="0.88"/>
<circle cx="123.1" cy="409.3" r="4.2" fill="url(#c_lblue)" fill-opacity="0.88"/>
<circle cx="130.6" cy="411.4" r="4.2" fill="url(#c_lblue)" fill-opacity="0.88"/>
<circle cx="136.1" cy="416.1" r="4.2" fill="url(#c_lblue)" fill-opacity="0.88"/>
<circle cx="125.2" cy="415.6" r="4.2" fill="url(#c_lblue)" fill-opacity="0.88"/>
<circle cx="113.4" cy="420.3" r="4.2" fill="url(#c_lblue)" fill-opacity="0.88"/>
<circle cx="121.4" cy="419.0" r="4.2" fill="url(#c_lblue)" fill-opacity="0.88"/>
<circle cx="127.7" cy="422.4" r="4.2" fill="url(#c_lblue)" fill-opacity="0.88"/>
<circle cx="132.7" cy="424.5" r="4.2" fill="url(#c_lblue)" fill-opacity="0.88"/>
<circle cx="97.4" cy="423.2" r="4.2" fill="url(#c_lblue)" fill-opacity="0.88"/>
<circle cx="107.1" cy="424.1" r="4.2" fill="url(#c_lblue)" fill-opacity="0.88"/>
<circle cx="118.4" cy="427.4" r="4.2" fill="url(#c_lblue)" fill-opacity="0.88"/>
<circle cx="125.2" cy="427.4" r="4.2" fill="url(#c_lblue)" fill-opacity="0.88"/>
<circle cx="115.1" cy="434.6" r="4.2" fill="url(#c_lblue)" fill-opacity="0.88"/>
<circle cx="120.1" cy="434.6" r="4.2" fill="url(#c_lblue)" fill-opacity="0.88"/>
<circle cx="128.5" cy="432.0" r="4.2" fill="url(#c_lblue)" fill-opacity="0.88"/>
<circle cx="134.4" cy="432.9" r="4.2" fill="url(#c_lblue)" fill-opacity="0.88"/>
<circle cx="95.7" cy="437.1" r="4.2" fill="url(#c_lblue)" fill-opacity="0.88"/>
<circle cx="112.5" cy="440.0" r="4.2" fill="url(#c_lblue)" fill-opacity="0.88"/>
<circle cx="122.6" cy="437.5" r="4.2" fill="url(#c_lblue)" fill-opacity="0.88"/>
<circle cx="107.1" cy="444.6" r="4.2" fill="url(#c_lblue)" fill-opacity="0.88"/>
<circle cx="118.4" cy="445.9" r="4.2" fill="url(#c_lblue)" fill-opacity="0.88"/>
<circle cx="127.7" cy="443.0" r="4.2" fill="url(#c_lblue)" fill-opacity="0.88"/>
<circle cx="134.4" cy="441.3" r="4.2" fill="url(#c_lblue)" fill-opacity="0.88"/>
<circle cx="107.5" cy="428.7" r="4.2" fill="url(#c_lblue)" fill-opacity="0.88"/>
<circle cx="101.6" cy="436.2" r="4.2" fill="url(#c_lblue)" fill-opacity="0.88"/>
<circle cx="111.7" cy="427.8" r="4.2" fill="url(#c_lblue)" fill-opacity="0.88"/>
<circle cx="131.0" cy="437.9" r="4.2" fill="url(#c_lblue)" fill-opacity="0.88"/>
<circle cx="155.9" cy="446.1" r="4.2" fill="url(#c_lorange)" fill-opacity="0.88"/>
<circle cx="161.4" cy="423.7" r="4.2" fill="url(#c_lorange)" fill-opacity="0.88"/>
<circle cx="145.4" cy="440.1" r="4.2" fill="url(#c_lorange)" fill-opacity="0.88"/>
<circle cx="155.0" cy="416.5" r="4.2" fill="url(#c_lorange)" fill-opacity="0.88"/>
<circle cx="144.9" cy="446.9" r="4.2" fill="url(#c_lorange)" fill-opacity="0.88"/>
<circle cx="151.4" cy="438.1" r="4.2" fill="url(#c_lorange)" fill-opacity="0.88"/>
<circle cx="145.6" cy="423.7" r="4.2" fill="url(#c_lorange)" fill-opacity="0.88"/>
<circle cx="142.4" cy="414.5" r="4.2" fill="url(#c_lorange)" fill-opacity="0.88"/>
<circle cx="148.4" cy="415.4" r="4.2" fill="url(#c_lorange)" fill-opacity="0.88"/>
<circle cx="142.4" cy="419.5" r="4.2" fill="url(#c_lorange)" fill-opacity="0.88"/>
<circle cx="151.1" cy="423.6" r="4.2" fill="url(#c_lorange)" fill-opacity="0.88"/>
<circle cx="155.7" cy="423.2" r="4.2" fill="url(#c_lorange)" fill-opacity="0.88"/>
<circle cx="159.8" cy="414.5" r="4.2" fill="url(#c_lorange)" fill-opacity="0.88"/>
<circle cx="173.6" cy="413.1" r="4.2" fill="url(#c_lorange)" fill-opacity="0.88"/>
<circle cx="175.9" cy="420.9" r="4.2" fill="url(#c_lorange)" fill-opacity="0.88"/>
<circle cx="171.8" cy="425.5" r="4.2" fill="url(#c_lorange)" fill-opacity="0.88"/>
<circle cx="140.1" cy="426.4" r="4.2" fill="url(#c_lorange)" fill-opacity="0.88"/>
<circle cx="147.0" cy="428.7" r="4.2" fill="url(#c_lorange)" fill-opacity="0.88"/>
<circle cx="141.5" cy="431.4" r="4.2" fill="url(#c_lorange)" fill-opacity="0.88"/>
<circle cx="152.0" cy="430.5" r="4.2" fill="url(#c_lorange)" fill-opacity="0.88"/>
<circle cx="141.5" cy="436.5" r="4.2" fill="url(#c_lorange)" fill-opacity="0.88"/>
<circle cx="147.0" cy="435.1" r="4.2" fill="url(#c_lorange)" fill-opacity="0.88"/>
<circle cx="162.1" cy="431.0" r="4.2" fill="url(#c_lorange)" fill-opacity="0.88"/>
<circle cx="175.0" cy="430.5" r="4.2" fill="url(#c_lorange)" fill-opacity="0.88"/>
<circle cx="158.5" cy="440.6" r="4.2" fill="url(#c_lorange)" fill-opacity="0.88"/>
<circle cx="162.1" cy="444.7" r="4.2" fill="url(#c_lorange)" fill-opacity="0.88"/>
<circle cx="139.7" cy="442.9" r="4.2" fill="url(#c_lorange)" fill-opacity="0.88"/>
<circle cx="172.2" cy="447.0" r="4.2" fill="url(#c_lorange)" fill-opacity="0.88"/>
<circle cx="160.3" cy="449.3" r="4.2" fill="url(#c_lorange)" fill-opacity="0.88"/>
<circle cx="153.0" cy="451.6" r="4.2" fill="url(#c_lorange)" fill-opacity="0.88"/>
<circle cx="144.7" cy="453.9" r="4.2" fill="url(#c_lorange)" fill-opacity="0.88"/>
<circle cx="175.4" cy="455.3" r="4.2" fill="url(#c_lorange)" fill-opacity="0.88"/>
<circle cx="162.1" cy="455.7" r="4.2" fill="url(#c_lorange)" fill-opacity="0.88"/>
<circle cx="154.8" cy="454.8" r="4.2" fill="url(#c_lorange)" fill-opacity="0.88"/>
<circle cx="141.0" cy="450.7" r="4.2" fill="url(#c_lorange)" fill-opacity="0.88"/>
<circle cx="165.4" cy="442.4" r="4.2" fill="url(#c_lorange)" fill-opacity="0.88"/>
<circle cx="150.2" cy="447.0" r="4.2" fill="url(#c_lorange)" fill-opacity="0.88"/>
<circle cx="156.6" cy="426.8" r="4.2" fill="url(#c_lorange)" fill-opacity="0.88"/>
<circle cx="168.6" cy="431.4" r="4.2" fill="url(#c_lorange)" fill-opacity="0.88"/>
<circle cx="155.7" cy="435.1" r="4.2" fill="url(#c_lorange)" fill-opacity="0.88"/>
<circle cx="106.7" cy="470.4" r="4.2" fill="url(#c_orange)" fill-opacity="0.88"/>
<circle cx="136.4" cy="467.1" r="4.2" fill="url(#c_orange)" fill-opacity="0.88"/>
<circle cx="107.8" cy="453.1" r="4.2" fill="url(#c_orange)" fill-opacity="0.88"/>
<circle cx="100.7" cy="466.4" r="4.2" fill="url(#c_orange)" fill-opacity="0.88"/>
<circle cx="113.6" cy="470.2" r="4.2" fill="url(#c_orange)" fill-opacity="0.88"/>
<circle cx="105.7" cy="463.1" r="4.2" fill="url(#c_orange)" fill-opacity="0.88"/>
<circle cx="119.1" cy="452.2" r="4.2" fill="url(#c_orange)" fill-opacity="0.88"/>
<circle cx="97.5" cy="469.8" r="4.2" fill="url(#c_orange)" fill-opacity="0.88"/>
<circle cx="127.4" cy="451.6" r="4.2" fill="url(#c_orange)" fill-opacity="0.88"/>
<circle cx="134.4" cy="458.8" r="4.2" fill="url(#c_orange)" fill-opacity="0.88"/>
<circle cx="103.7" cy="465.6" r="4.2" fill="url(#c_orange)" fill-opacity="0.88"/>
<circle cx="99.6" cy="468.7" r="4.2" fill="url(#c_orange)" fill-opacity="0.88"/>
<circle cx="134.8" cy="464.1" r="4.2" fill="url(#c_orange)" fill-opacity="0.88"/>
<circle cx="115.1" cy="473.5" r="4.2" fill="url(#c_orange)" fill-opacity="0.88"/>
<circle cx="101.7" cy="457.1" r="4.2" fill="url(#c_orange)" fill-opacity="0.88"/>
<circle cx="111.0" cy="456.8" r="4.2" fill="url(#c_orange)" fill-opacity="0.88"/>
<circle cx="103.9" cy="456.4" r="4.2" fill="url(#c_orange)" fill-opacity="0.88"/>
<circle cx="103.3" cy="467.9" r="4.2" fill="url(#c_orange)" fill-opacity="0.88"/>
<circle cx="120.8" cy="465.3" r="4.2" fill="url(#c_orange)" fill-opacity="0.88"/>
<circle cx="134.8" cy="454.7" r="4.2" fill="url(#c_orange)" fill-opacity="0.88"/>
<circle cx="126.3" cy="471.9" r="4.2" fill="url(#c_orange)" fill-opacity="0.88"/>
<circle cx="124.2" cy="451.9" r="4.2" fill="url(#c_orange)" fill-opacity="0.88"/>
<circle cx="108.4" cy="456.3" r="4.2" fill="url(#c_orange)" fill-opacity="0.88"/>
<circle cx="125.9" cy="448.2" r="4.2" fill="url(#c_orange)" fill-opacity="0.88"/>
<circle cx="116.0" cy="461.5" r="4.2" fill="url(#c_orange)" fill-opacity="0.88"/>
<circle cx="127.8" cy="454.9" r="4.2" fill="url(#c_orange)" fill-opacity="0.88"/>
<circle cx="97.5" cy="466.8" r="4.2" fill="url(#c_orange)" fill-opacity="0.88"/>
<circle cx="130.2" cy="453.8" r="4.2" fill="url(#c_orange)" fill-opacity="0.88"/>
<circle cx="99.2" cy="471.5" r="4.2" fill="url(#c_orange)" fill-opacity="0.88"/>
<circle cx="120.9" cy="467.9" r="4.2" fill="url(#c_orange)" fill-opacity="0.88"/>
<circle cx="125.2" cy="461.0" r="4.2" fill="url(#c_orange)" fill-opacity="0.88"/>
<circle cx="141.3" cy="464.4" r="4.2" fill="url(#c_orange)" fill-opacity="0.88"/>
<circle cx="120.9" cy="460.9" r="4.2" fill="url(#c_orange)" fill-opacity="0.88"/>
<circle cx="132.5" cy="455.2" r="4.2" fill="url(#c_orange)" fill-opacity="0.88"/>
<circle cx="123.4" cy="468.1" r="4.2" fill="url(#c_orange)" fill-opacity="0.88"/>
<circle cx="115.3" cy="467.3" r="4.2" fill="url(#c_orange)" fill-opacity="0.88"/>
<circle cx="111.6" cy="463.2" r="4.2" fill="url(#c_orange)" fill-opacity="0.88"/>
<circle cx="123.0" cy="457.8" r="4.2" fill="url(#c_orange)" fill-opacity="0.88"/>
<circle cx="128.5" cy="462.8" r="4.2" fill="url(#c_orange)" fill-opacity="0.88"/>
<circle cx="136.0" cy="457.1" r="4.2" fill="url(#c_orange)" fill-opacity="0.88"/>
<circle cx="135.5" cy="473.3" r="4.2" fill="url(#c_orange)" fill-opacity="0.88"/>
<circle cx="130.5" cy="462.0" r="4.2" fill="url(#c_orange)" fill-opacity="0.88"/>
<circle cx="133.5" cy="470.7" r="4.2" fill="url(#c_orange)" fill-opacity="0.88"/>
<circle cx="108.7" cy="461.6" r="4.2" fill="url(#c_orange)" fill-opacity="0.88"/>
<circle cx="100.7" cy="459.6" r="4.2" fill="url(#c_orange)" fill-opacity="0.88"/>
<circle cx="133.5" cy="452.8" r="4.2" fill="url(#c_orange)" fill-opacity="0.88"/>
<circle cx="109.5" cy="474.0" r="4.2" fill="url(#c_orange)" fill-opacity="0.88"/>
<circle cx="119.1" cy="470.0" r="4.2" fill="url(#c_orange)" fill-opacity="0.88"/>
<circle cx="94.3" cy="447.9" r="4.2" fill="url(#c_orange)" fill-opacity="0.88"/>
<circle cx="130.6" cy="476.7" r="4.2" fill="url(#c_orange)" fill-opacity="0.88"/>
<circle cx="118.3" cy="473.5" r="4.2" fill="url(#c_orange)" fill-opacity="0.88"/>
<circle cx="112.0" cy="474.0" r="4.2" fill="url(#c_orange)" fill-opacity="0.88"/>
<circle cx="140.7" cy="462.2" r="4.2" fill="url(#c_orange)" fill-opacity="0.88"/>
<circle cx="129.0" cy="447.6" r="4.2" fill="url(#c_orange)" fill-opacity="0.88"/>
<circle cx="143.3" cy="482.0" r="4.2" fill="url(#c_orange)" fill-opacity="0.88"/>
<circle cx="120.5" cy="455.3" r="4.2" fill="url(#c_orange)" fill-opacity="0.88"/>
<circle cx="140.0" cy="476.0" r="4.2" fill="url(#c_orange)" fill-opacity="0.88"/>
<circle cx="113.7" cy="452.9" r="4.2" fill="url(#c_orange)" fill-opacity="0.88"/>
<circle cx="111.2" cy="454.4" r="4.2" fill="url(#c_orange)" fill-opacity="0.88"/>
<circle cx="132.2" cy="475.0" r="4.2" fill="url(#c_orange)" fill-opacity="0.88"/>
<circle cx="124.4" cy="464.3" r="4.2" fill="url(#c_orange)" fill-opacity="0.88"/>
<circle cx="131.0" cy="459.4" r="4.2" fill="url(#c_orange)" fill-opacity="0.88"/>
<circle cx="118.7" cy="459.3" r="4.2" fill="url(#c_orange)" fill-opacity="0.88"/>
<circle cx="97.7" cy="460.4" r="4.2" fill="url(#c_orange)" fill-opacity="0.88"/>
<circle cx="110.9" cy="471.4" r="4.2" fill="url(#c_orange)" fill-opacity="0.88"/>
<circle cx="131.9" cy="464.6" r="4.2" fill="url(#c_orange)" fill-opacity="0.88"/>
<circle cx="99.0" cy="464.0" r="4.2" fill="url(#c_orange)" fill-opacity="0.88"/>
<circle cx="141.3" cy="467.7" r="4.2" fill="url(#c_orange)" fill-opacity="0.88"/>
<circle cx="118.2" cy="457.1" r="4.2" fill="url(#c_orange)" fill-opacity="0.88"/>
<circle cx="131.0" cy="468.8" r="4.2" fill="url(#c_orange)" fill-opacity="0.88"/>
<circle cx="128.5" cy="458.5" r="4.2" fill="url(#c_orange)" fill-opacity="0.88"/>
<circle cx="107.8" cy="468.1" r="4.2" fill="url(#c_orange)" fill-opacity="0.88"/>
<circle cx="128.4" cy="477.7" r="4.2" fill="url(#c_orange)" fill-opacity="0.88"/>
<circle cx="133.3" cy="477.5" r="4.2" fill="url(#c_orange)" fill-opacity="0.88"/>
<circle cx="123.3" cy="475.5" r="4.2" fill="url(#c_orange)" fill-opacity="0.88"/>
<circle cx="120.2" cy="449.1" r="4.2" fill="url(#c_orange)" fill-opacity="0.88"/>
<circle cx="103.8" cy="470.5" r="4.2" fill="url(#c_orange)" fill-opacity="0.88"/>
<circle cx="85.5" cy="464.5" r="4.2" fill="url(#c_orange)" fill-opacity="0.88"/>
<circle cx="134.9" cy="449.9" r="4.2" fill="url(#c_orange)" fill-opacity="0.88"/>
<circle cx="104.2" cy="460.1" r="4.2" fill="url(#c_orange)" fill-opacity="0.88"/>
<circle cx="123.5" cy="454.5" r="4.2" fill="url(#c_orange)" fill-opacity="0.88"/>
<circle cx="135.9" cy="470.5" r="4.2" fill="url(#c_orange)" fill-opacity="0.88"/>
<circle cx="120.3" cy="475.6" r="4.2" fill="url(#c_orange)" fill-opacity="0.88"/>
<circle cx="137.6" cy="475.5" r="4.2" fill="url(#c_orange)" fill-opacity="0.88"/>
<circle cx="118.2" cy="465.4" r="4.2" fill="url(#c_orange)" fill-opacity="0.88"/>
<circle cx="122.9" cy="472.2" r="4.2" fill="url(#c_orange)" fill-opacity="0.88"/>
<circle cx="138.0" cy="465.3" r="4.2" fill="url(#c_orange)" fill-opacity="0.88"/>
<circle cx="127.5" cy="468.7" r="4.2" fill="url(#c_orange)" fill-opacity="0.88"/>
<circle cx="126.1" cy="476.5" r="4.2" fill="url(#c_orange)" fill-opacity="0.88"/>
<circle cx="139.1" cy="471.6" r="4.2" fill="url(#c_orange)" fill-opacity="0.88"/>
<circle cx="118.2" cy="462.4" r="4.2" fill="url(#c_orange)" fill-opacity="0.88"/>
<circle cx="115.3" cy="457.7" r="4.2" fill="url(#c_orange)" fill-opacity="0.88"/>
<circle cx="105.3" cy="454.0" r="4.2" fill="url(#c_orange)" fill-opacity="0.88"/>
<circle cx="111.6" cy="465.7" r="4.2" fill="url(#c_orange)" fill-opacity="0.88"/>
<circle cx="109.5" cy="458.8" r="4.2" fill="url(#c_orange)" fill-opacity="0.88"/>
<circle cx="101.2" cy="463.9" r="4.2" fill="url(#c_orange)" fill-opacity="0.88"/>
<circle cx="128.4" cy="474.1" r="4.2" fill="url(#c_orange)" fill-opacity="0.88"/>
<circle cx="138.5" cy="458.0" r="4.2" fill="url(#c_orange)" fill-opacity="0.88"/>
<circle cx="135.2" cy="461.2" r="4.2" fill="url(#c_orange)" fill-opacity="0.88"/>
<circle cx="112.9" cy="509.8" r="4.2" fill="url(#c_green)" fill-opacity="0.88"/>
<circle cx="112.3" cy="492.8" r="4.2" fill="url(#c_green)" fill-opacity="0.88"/>
<circle cx="119.7" cy="484.9" r="4.2" fill="url(#c_green)" fill-opacity="0.88"/>
<circle cx="104.2" cy="480.1" r="4.2" fill="url(#c_green)" fill-opacity="0.88"/>
<circle cx="133.6" cy="487.9" r="4.2" fill="url(#c_green)" fill-opacity="0.88"/>
<circle cx="110.2" cy="502.2" r="4.2" fill="url(#c_green)" fill-opacity="0.88"/>
<circle cx="103.7" cy="511.7" r="4.2" fill="url(#c_green)" fill-opacity="0.88"/>
<circle cx="116.3" cy="495.4" r="4.2" fill="url(#c_green)" fill-opacity="0.88"/>
<circle cx="101.9" cy="491.1" r="4.2" fill="url(#c_green)" fill-opacity="0.88"/>
<circle cx="111.0" cy="496.4" r="4.2" fill="url(#c_green)" fill-opacity="0.88"/>
<circle cx="123.5" cy="493.9" r="4.2" fill="url(#c_green)" fill-opacity="0.88"/>
<circle cx="118.8" cy="489.9" r="4.2" fill="url(#c_green)" fill-opacity="0.88"/>
<circle cx="124.5" cy="503.4" r="4.2" fill="url(#c_green)" fill-opacity="0.88"/>
<circle cx="106.6" cy="479.4" r="4.2" fill="url(#c_green)" fill-opacity="0.88"/>
<circle cx="95.3" cy="488.5" r="4.2" fill="url(#c_green)" fill-opacity="0.88"/>
<circle cx="133.1" cy="496.1" r="4.2" fill="url(#c_green)" fill-opacity="0.88"/>
<circle cx="141.6" cy="501.2" r="4.2" fill="url(#c_green)" fill-opacity="0.88"/>
<circle cx="109.0" cy="497.8" r="4.2" fill="url(#c_green)" fill-opacity="0.88"/>
<circle cx="117.4" cy="485.3" r="4.2" fill="url(#c_green)" fill-opacity="0.88"/>
<circle cx="96.4" cy="494.7" r="4.2" fill="url(#c_green)" fill-opacity="0.88"/>
<circle cx="103.4" cy="505.8" r="4.2" fill="url(#c_green)" fill-opacity="0.88"/>
<circle cx="100.2" cy="489.1" r="4.2" fill="url(#c_green)" fill-opacity="0.88"/>
<circle cx="131.5" cy="482.7" r="4.2" fill="url(#c_green)" fill-opacity="0.88"/>
<circle cx="118.9" cy="493.5" r="4.2" fill="url(#c_green)" fill-opacity="0.88"/>
<circle cx="102.3" cy="498.1" r="4.2" fill="url(#c_green)" fill-opacity="0.88"/>
<circle cx="104.1" cy="496.5" r="4.2" fill="url(#c_green)" fill-opacity="0.88"/>
<circle cx="125.9" cy="484.8" r="4.2" fill="url(#c_green)" fill-opacity="0.88"/>
<circle cx="128.9" cy="502.5" r="4.2" fill="url(#c_green)" fill-opacity="0.88"/>
<circle cx="111.6" cy="485.9" r="4.2" fill="url(#c_green)" fill-opacity="0.88"/>
<circle cx="120.1" cy="498.8" r="4.2" fill="url(#c_green)" fill-opacity="0.88"/>
<circle cx="134.0" cy="506.7" r="4.2" fill="url(#c_green)" fill-opacity="0.88"/>
<circle cx="87.3" cy="501.5" r="4.2" fill="url(#c_green)" fill-opacity="0.88"/>
<circle cx="132.2" cy="491.1" r="4.2" fill="url(#c_green)" fill-opacity="0.88"/>
<circle cx="90.6" cy="510.4" r="4.2" fill="url(#c_green)" fill-opacity="0.88"/>
<circle cx="124.9" cy="480.3" r="4.2" fill="url(#c_green)" fill-opacity="0.88"/>
<circle cx="91.3" cy="494.5" r="4.2" fill="url(#c_green)" fill-opacity="0.88"/>
<circle cx="129.3" cy="481.6" r="4.2" fill="url(#c_green)" fill-opacity="0.88"/>
<circle cx="100.9" cy="502.5" r="4.2" fill="url(#c_green)" fill-opacity="0.88"/>
<circle cx="135.3" cy="497.5" r="4.2" fill="url(#c_green)" fill-opacity="0.88"/>
<circle cx="93.6" cy="486.5" r="4.2" fill="url(#c_green)" fill-opacity="0.88"/>
<circle cx="109.1" cy="484.0" r="4.2" fill="url(#c_green)" fill-opacity="0.88"/>
<circle cx="124.3" cy="511.5" r="4.2" fill="url(#c_green)" fill-opacity="0.88"/>
<circle cx="103.9" cy="494.3" r="4.2" fill="url(#c_green)" fill-opacity="0.88"/>
<circle cx="129.8" cy="500.1" r="4.2" fill="url(#c_green)" fill-opacity="0.88"/>
<circle cx="138.4" cy="488.9" r="4.2" fill="url(#c_green)" fill-opacity="0.88"/>
<circle cx="116.8" cy="512.5" r="4.2" fill="url(#c_green)" fill-opacity="0.88"/>
<circle cx="96.0" cy="512.2" r="4.2" fill="url(#c_green)" fill-opacity="0.88"/>
<circle cx="138.2" cy="500.3" r="4.2" fill="url(#c_green)" fill-opacity="0.88"/>
<circle cx="128.2" cy="496.5" r="4.2" fill="url(#c_green)" fill-opacity="0.88"/>
<circle cx="132.4" cy="503.7" r="4.2" fill="url(#c_green)" fill-opacity="0.88"/>
<circle cx="112.4" cy="513.4" r="4.2" fill="url(#c_green)" fill-opacity="0.88"/>
<circle cx="129.8" cy="509.3" r="4.2" fill="url(#c_green)" fill-opacity="0.88"/>
<circle cx="87.5" cy="498.7" r="4.2" fill="url(#c_green)" fill-opacity="0.88"/>
<circle cx="108.4" cy="505.3" r="4.2" fill="url(#c_green)" fill-opacity="0.88"/>
<circle cx="95.6" cy="490.8" r="4.2" fill="url(#c_green)" fill-opacity="0.88"/>
<circle cx="100.6" cy="505.1" r="4.2" fill="url(#c_green)" fill-opacity="0.88"/>
<circle cx="121.8" cy="489.9" r="4.2" fill="url(#c_green)" fill-opacity="0.88"/>
<circle cx="97.7" cy="479.2" r="4.2" fill="url(#c_green)" fill-opacity="0.88"/>
<circle cx="141.2" cy="493.3" r="4.2" fill="url(#c_green)" fill-opacity="0.88"/>
<circle cx="98.9" cy="492.2" r="4.2" fill="url(#c_green)" fill-opacity="0.88"/>
<circle cx="130.1" cy="485.8" r="4.2" fill="url(#c_green)" fill-opacity="0.88"/>
<circle cx="123.9" cy="506.6" r="4.2" fill="url(#c_green)" fill-opacity="0.88"/>
<circle cx="109.6" cy="508.3" r="4.2" fill="url(#c_green)" fill-opacity="0.88"/>
<circle cx="136.7" cy="493.2" r="4.2" fill="url(#c_green)" fill-opacity="0.88"/>
<circle cx="132.5" cy="485.6" r="4.2" fill="url(#c_green)" fill-opacity="0.88"/>
<circle cx="121.2" cy="495.8" r="4.2" fill="url(#c_green)" fill-opacity="0.88"/>
<circle cx="116.5" cy="482.8" r="4.2" fill="url(#c_green)" fill-opacity="0.88"/>
<circle cx="115.7" cy="508.9" r="4.2" fill="url(#c_green)" fill-opacity="0.88"/>
<circle cx="126.5" cy="510.9" r="4.2" fill="url(#c_green)" fill-opacity="0.88"/>
<circle cx="113.6" cy="502.2" r="4.2" fill="url(#c_green)" fill-opacity="0.88"/>
<circle cx="114.1" cy="488.7" r="4.2" fill="url(#c_green)" fill-opacity="0.88"/>
<circle cx="144.2" cy="514.5" r="4.2" fill="url(#c_green)" fill-opacity="0.88"/>
<circle cx="95.6" cy="509.4" r="4.2" fill="url(#c_green)" fill-opacity="0.88"/>
<circle cx="105.2" cy="484.8" r="4.2" fill="url(#c_green)" fill-opacity="0.88"/>
<circle cx="100.0" cy="500.4" r="4.2" fill="url(#c_green)" fill-opacity="0.88"/>
<circle cx="109.8" cy="512.3" r="4.2" fill="url(#c_green)" fill-opacity="0.88"/>
<circle cx="96.6" cy="507.2" r="4.2" fill="url(#c_green)" fill-opacity="0.88"/>
<circle cx="122.3" cy="508.5" r="4.2" fill="url(#c_green)" fill-opacity="0.88"/>
<circle cx="133.5" cy="499.9" r="4.2" fill="url(#c_green)" fill-opacity="0.88"/>
<circle cx="111.9" cy="488.1" r="4.2" fill="url(#c_green)" fill-opacity="0.88"/>
<circle cx="92.9" cy="490.9" r="4.2" fill="url(#c_green)" fill-opacity="0.88"/>
<circle cx="122.1" cy="480.8" r="4.2" fill="url(#c_green)" fill-opacity="0.88"/>
<circle cx="114.4" cy="504.8" r="4.2" fill="url(#c_green)" fill-opacity="0.88"/>
<circle cx="114.4" cy="485.2" r="4.2" fill="url(#c_green)" fill-opacity="0.88"/>
<circle cx="111.9" cy="500.1" r="4.2" fill="url(#c_green)" fill-opacity="0.88"/>
<circle cx="147.5" cy="506.0" r="4.2" fill="url(#c_green)" fill-opacity="0.88"/>
<circle cx="136.1" cy="501.5" r="4.2" fill="url(#c_green)" fill-opacity="0.88"/>
<circle cx="138.4" cy="495.0" r="4.2" fill="url(#c_green)" fill-opacity="0.88"/>
<circle cx="87.1" cy="510.5" r="4.2" fill="url(#c_green)" fill-opacity="0.88"/>
<circle cx="121.4" cy="511.5" r="4.2" fill="url(#c_green)" fill-opacity="0.88"/>
<circle cx="117.0" cy="479.3" r="4.2" fill="url(#c_green)" fill-opacity="0.88"/>
<circle cx="117.2" cy="492.0" r="4.2" fill="url(#c_green)" fill-opacity="0.88"/>
<circle cx="96.3" cy="485.1" r="4.2" fill="url(#c_green)" fill-opacity="0.88"/>
<circle cx="127.1" cy="487.9" r="4.2" fill="url(#c_green)" fill-opacity="0.88"/>
<circle cx="136.5" cy="505.2" r="4.2" fill="url(#c_green)" fill-opacity="0.88"/>
<circle cx="135.4" cy="486.2" r="4.2" fill="url(#c_green)" fill-opacity="0.88"/>
<circle cx="96.6" cy="499.4" r="4.2" fill="url(#c_green)" fill-opacity="0.88"/>
<circle cx="116.3" cy="500.6" r="4.2" fill="url(#c_green)" fill-opacity="0.88"/>
<circle cx="91.2" cy="488.9" r="4.2" fill="url(#c_green)" fill-opacity="0.88"/>
<circle cx="90.4" cy="504.1" r="4.2" fill="url(#c_green)" fill-opacity="0.88"/>
<circle cx="132.7" cy="512.1" r="4.2" fill="url(#c_green)" fill-opacity="0.88"/>
<circle cx="93.4" cy="504.4" r="4.2" fill="url(#c_green)" fill-opacity="0.88"/>
<circle cx="94.9" cy="479.3" r="4.2" fill="url(#c_green)" fill-opacity="0.88"/>
<circle cx="91.8" cy="480.0" r="4.2" fill="url(#c_green)" fill-opacity="0.88"/>
<circle cx="90.2" cy="507.0" r="4.2" fill="url(#c_green)" fill-opacity="0.88"/>
<circle cx="106.1" cy="489.4" r="4.2" fill="url(#c_green)" fill-opacity="0.88"/>
<circle cx="108.0" cy="491.0" r="4.2" fill="url(#c_green)" fill-opacity="0.88"/>
<circle cx="99.8" cy="511.1" r="4.2" fill="url(#c_green)" fill-opacity="0.88"/>
<circle cx="92.4" cy="499.4" r="4.2" fill="url(#c_green)" fill-opacity="0.88"/>
<circle cx="100.3" cy="479.3" r="4.2" fill="url(#c_green)" fill-opacity="0.88"/>
<circle cx="111.3" cy="505.6" r="4.2" fill="url(#c_green)" fill-opacity="0.88"/>
<circle cx="89.9" cy="500.1" r="4.2" fill="url(#c_green)" fill-opacity="0.88"/>
<circle cx="259.4" cy="481.0" r="4.2" fill="url(#c_blue)" fill-opacity="0.88"/>
<circle cx="271.7" cy="460.4" r="4.2" fill="url(#c_blue)" fill-opacity="0.88"/>
<circle cx="257.5" cy="470.2" r="4.2" fill="url(#c_blue)" fill-opacity="0.88"/>
<circle cx="273.5" cy="488.2" r="4.2" fill="url(#c_blue)" fill-opacity="0.88"/>
<circle cx="279.8" cy="465.7" r="4.2" fill="url(#c_blue)" fill-opacity="0.88"/>
<circle cx="276.3" cy="473.2" r="4.2" fill="url(#c_blue)" fill-opacity="0.88"/>
<circle cx="275.3" cy="478.7" r="4.2" fill="url(#c_blue)" fill-opacity="0.88"/>
<circle cx="281.0" cy="478.7" r="4.2" fill="url(#c_blue)" fill-opacity="0.88"/>
<circle cx="271.9" cy="486.4" r="4.2" fill="url(#c_blue)" fill-opacity="0.88"/>
<circle cx="270.0" cy="475.3" r="4.2" fill="url(#c_blue)" fill-opacity="0.88"/>
<circle cx="276.5" cy="469.5" r="4.2" fill="url(#c_blue)" fill-opacity="0.88"/>
<circle cx="269.8" cy="479.8" r="4.2" fill="url(#c_blue)" fill-opacity="0.88"/>
<circle cx="265.6" cy="466.1" r="4.2" fill="url(#c_blue)" fill-opacity="0.88"/>
<circle cx="274.2" cy="464.0" r="4.2" fill="url(#c_blue)" fill-opacity="0.88"/>
<circle cx="259.5" cy="472.1" r="4.2" fill="url(#c_blue)" fill-opacity="0.88"/>
<circle cx="272.1" cy="482.5" r="4.2" fill="url(#c_blue)" fill-opacity="0.88"/>
<circle cx="281.9" cy="486.5" r="4.2" fill="url(#c_blue)" fill-opacity="0.88"/>
<circle cx="264.3" cy="460.6" r="4.2" fill="url(#c_blue)" fill-opacity="0.88"/>
<circle cx="268.4" cy="470.9" r="4.2" fill="url(#c_blue)" fill-opacity="0.88"/>
<circle cx="270.9" cy="489.7" r="4.2" fill="url(#c_blue)" fill-opacity="0.88"/>
<circle cx="282.9" cy="482.3" r="4.2" fill="url(#c_blue)" fill-opacity="0.88"/>
<circle cx="282.9" cy="472.6" r="4.2" fill="url(#c_blue)" fill-opacity="0.88"/>
<circle cx="268.7" cy="459.5" r="4.2" fill="url(#c_blue)" fill-opacity="0.88"/>
<circle cx="260.8" cy="475.1" r="4.2" fill="url(#c_blue)" fill-opacity="0.88"/>
<circle cx="259.8" cy="478.7" r="4.2" fill="url(#c_blue)" fill-opacity="0.88"/>
<circle cx="264.4" cy="479.2" r="4.2" fill="url(#c_blue)" fill-opacity="0.88"/>
<circle cx="272.5" cy="472.8" r="4.2" fill="url(#c_blue)" fill-opacity="0.88"/>
<circle cx="259.0" cy="467.8" r="4.2" fill="url(#c_blue)" fill-opacity="0.88"/>
<circle cx="265.7" cy="485.8" r="4.2" fill="url(#c_blue)" fill-opacity="0.88"/>
<circle cx="268.8" cy="486.4" r="4.2" fill="url(#c_blue)" fill-opacity="0.88"/>
<circle cx="259.0" cy="462.7" r="4.2" fill="url(#c_blue)" fill-opacity="0.88"/>
<circle cx="266.4" cy="474.9" r="4.2" fill="url(#c_blue)" fill-opacity="0.88"/>
<circle cx="279.5" cy="473.6" r="4.2" fill="url(#c_blue)" fill-opacity="0.88"/>
<circle cx="283.6" cy="476.2" r="4.2" fill="url(#c_blue)" fill-opacity="0.88"/>
<circle cx="272.8" cy="479.2" r="4.2" fill="url(#c_blue)" fill-opacity="0.88"/>
<circle cx="279.5" cy="470.1" r="4.2" fill="url(#c_blue)" fill-opacity="0.88"/>
<circle cx="270.5" cy="467.6" r="4.2" fill="url(#c_blue)" fill-opacity="0.88"/>
<circle cx="275.0" cy="483.9" r="4.2" fill="url(#c_blue)" fill-opacity="0.88"/>
<circle cx="268.0" cy="484.1" r="4.2" fill="url(#c_blue)" fill-opacity="0.88"/>
<circle cx="273.4" cy="475.3" r="4.2" fill="url(#c_blue)" fill-opacity="0.88"/>
<circle cx="261.1" cy="469.9" r="4.2" fill="url(#c_blue)" fill-opacity="0.88"/>
<circle cx="267.6" cy="464.1" r="4.2" fill="url(#c_blue)" fill-opacity="0.88"/>
<circle cx="262.6" cy="483.5" r="4.2" fill="url(#c_blue)" fill-opacity="0.88"/>
<circle cx="270.6" cy="463.2" r="4.2" fill="url(#c_blue)" fill-opacity="0.88"/>
<circle cx="259.6" cy="460.1" r="4.2" fill="url(#c_blue)" fill-opacity="0.88"/>
<circle cx="266.7" cy="477.5" r="4.2" fill="url(#c_blue)" fill-opacity="0.88"/>
<circle cx="279.8" cy="481.2" r="4.2" fill="url(#c_blue)" fill-opacity="0.88"/>
<circle cx="265.4" cy="488.7" r="4.2" fill="url(#c_blue)" fill-opacity="0.88"/>
<circle cx="276.5" cy="486.9" r="4.2" fill="url(#c_blue)" fill-opacity="0.88"/>
<circle cx="275.2" cy="491.2" r="4.2" fill="url(#c_blue)" fill-opacity="0.88"/>
<circle cx="266.5" cy="480.8" r="4.2" fill="url(#c_blue)" fill-opacity="0.88"/>
<circle cx="278.1" cy="477.6" r="4.2" fill="url(#c_blue)" fill-opacity="0.88"/>
<circle cx="264.0" cy="472.6" r="4.2" fill="url(#c_blue)" fill-opacity="0.88"/>
<circle cx="265.0" cy="469.8" r="4.2" fill="url(#c_blue)" fill-opacity="0.88"/>
<circle cx="280.2" cy="484.1" r="4.2" fill="url(#c_blue)" fill-opacity="0.88"/>
<circle cx="267.2" cy="461.4" r="4.2" fill="url(#c_blue)" fill-opacity="0.88"/>
<circle cx="263.0" cy="464.3" r="4.2" fill="url(#c_blue)" fill-opacity="0.88"/>
<circle cx="281.5" cy="467.6" r="4.2" fill="url(#c_blue)" fill-opacity="0.88"/>
<circle cx="283.9" cy="479.7" r="4.2" fill="url(#c_blue)" fill-opacity="0.88"/>
<circle cx="268.1" cy="466.7" r="4.2" fill="url(#c_blue)" fill-opacity="0.88"/>
<circle cx="271.3" cy="470.3" r="4.2" fill="url(#c_blue)" fill-opacity="0.88"/>
<circle cx="263.3" cy="476.6" r="4.2" fill="url(#c_blue)" fill-opacity="0.88"/>
<circle cx="278.3" cy="489.8" r="4.2" fill="url(#c_blue)" fill-opacity="0.88"/>
<circle cx="260.1" cy="465.6" r="4.2" fill="url(#c_blue)" fill-opacity="0.88"/>
<circle cx="276.6" cy="465.8" r="4.2" fill="url(#c_blue)" fill-opacity="0.88"/>
<circle cx="274.2" cy="470.3" r="4.2" fill="url(#c_blue)" fill-opacity="0.88"/>
<circle cx="261.9" cy="461.6" r="4.2" fill="url(#c_blue)" fill-opacity="0.88"/>
<circle cx="280.5" cy="488.5" r="4.2" fill="url(#c_blue)" fill-opacity="0.88"/>
<circle cx="274.5" cy="461.4" r="4.2" fill="url(#c_blue)" fill-opacity="0.88"/>
<circle cx="263.1" cy="486.2" r="4.2" fill="url(#c_blue)" fill-opacity="0.88"/>
<circle cx="258.2" cy="462.1" r="4.2" fill="url(#c_blue)" fill-opacity="0.88"/>
<circle cx="255.2" cy="474.7" r="4.2" fill="url(#c_blue)" fill-opacity="0.88"/>
<circle cx="272.4" cy="491.6" r="4.2" fill="url(#c_blue)" fill-opacity="0.88"/>
<circle cx="274.6" cy="470.4" r="4.2" fill="url(#c_blue)" fill-opacity="0.88"/>
<circle cx="228.4" cy="457.2" r="4.2" fill="url(#c_blue)" fill-opacity="0.88"/>
<circle cx="241.6" cy="458.3" r="4.2" fill="url(#c_blue)" fill-opacity="0.88"/>
<circle cx="239.1" cy="467.0" r="4.2" fill="url(#c_blue)" fill-opacity="0.88"/>
<circle cx="237.0" cy="481.3" r="4.2" fill="url(#c_blue)" fill-opacity="0.88"/>
<circle cx="243.7" cy="489.9" r="4.2" fill="url(#c_blue)" fill-opacity="0.88"/>
<circle cx="250.8" cy="453.7" r="4.2" fill="url(#c_blue)" fill-opacity="0.88"/>
<circle cx="256.0" cy="450.6" r="4.2" fill="url(#c_blue)" fill-opacity="0.88"/>
<circle cx="263.6" cy="453.7" r="4.2" fill="url(#c_blue)" fill-opacity="0.88"/>
<circle cx="260.6" cy="455.7" r="4.2" fill="url(#c_blue)" fill-opacity="0.88"/>
<circle cx="252.4" cy="460.3" r="4.2" fill="url(#c_blue)" fill-opacity="0.88"/>
<circle cx="246.8" cy="465.4" r="4.2" fill="url(#c_blue)" fill-opacity="0.88"/>
<circle cx="254.4" cy="468.0" r="4.2" fill="url(#c_blue)" fill-opacity="0.88"/>
<circle cx="250.3" cy="469.0" r="4.2" fill="url(#c_blue)" fill-opacity="0.88"/>
<circle cx="261.6" cy="471.0" r="4.2" fill="url(#c_blue)" fill-opacity="0.88"/>
<circle cx="268.2" cy="472.1" r="4.2" fill="url(#c_blue)" fill-opacity="0.88"/>
<circle cx="267.7" cy="463.4" r="4.2" fill="url(#c_blue)" fill-opacity="0.88"/>
<circle cx="275.9" cy="464.4" r="4.2" fill="url(#c_blue)" fill-opacity="0.88"/>
<circle cx="270.8" cy="460.8" r="4.2" fill="url(#c_blue)" fill-opacity="0.88"/>
<circle cx="247.3" cy="473.1" r="4.2" fill="url(#c_blue)" fill-opacity="0.88"/>
<circle cx="251.9" cy="479.7" r="4.2" fill="url(#c_blue)" fill-opacity="0.88"/>
<circle cx="257.0" cy="484.3" r="4.2" fill="url(#c_blue)" fill-opacity="0.88"/>
<circle cx="246.2" cy="483.8" r="4.2" fill="url(#c_blue)" fill-opacity="0.88"/>
<circle cx="263.1" cy="479.2" r="4.2" fill="url(#c_blue)" fill-opacity="0.88"/>
<circle cx="266.7" cy="485.9" r="4.2" fill="url(#c_blue)" fill-opacity="0.88"/>
<circle cx="274.9" cy="485.9" r="4.2" fill="url(#c_blue)" fill-opacity="0.88"/>
<circle cx="273.8" cy="476.7" r="4.2" fill="url(#c_blue)" fill-opacity="0.88"/>
<circle cx="278.4" cy="477.7" r="4.2" fill="url(#c_blue)" fill-opacity="0.88"/>
<circle cx="282.0" cy="481.8" r="4.2" fill="url(#c_blue)" fill-opacity="0.88"/>
<circle cx="281.0" cy="470.5" r="4.2" fill="url(#c_blue)" fill-opacity="0.88"/>
<circle cx="284.1" cy="486.9" r="4.2" fill="url(#c_blue)" fill-opacity="0.88"/>
<circle cx="266.7" cy="488.9" r="4.2" fill="url(#c_blue)" fill-opacity="0.88"/>
<circle cx="259.5" cy="488.9" r="4.2" fill="url(#c_blue)" fill-opacity="0.88"/>
<path d="M119.3 427.09999999999997 L128.9 436.7 M119.3 436.7 L128.9 427.09999999999997" stroke="#3a6fa8" stroke-width="1.6" fill="none"/>
<path d="M145.5 428.5 L155.10000000000002 438.1 M145.5 438.1 L155.10000000000002 428.5" stroke="#e07a2a" stroke-width="1.6" fill="none"/>
<path d="M110.4 492.09999999999997 L120.0 501.7 M110.4 501.7 L120.0 492.09999999999997" stroke="#1b5a34" stroke-width="1.6" fill="none"/>
<path d="M263.0 472.9 L272.6 482.5 M263.0 482.5 L272.6 472.9" stroke="#1b5f8a" stroke-width="1.6" fill="none"/>
<text x="50.50" y="434.20" font-size="11.7" fill="#231815">(−0.30, 0.22)</text>
<text x="156.80" y="437.30" font-size="11.7" fill="#231815">(−0.16, 0.21)</text>
<text x="139.30" y="469.30" font-size="11.7" fill="#231815">(−0.31, 0.06)</text>
<text x="126.40" y="499.90" font-size="11.7" fill="#231815">(−0.35, −0.13)</text>
<text x="123.00" y="538.30" font-size="11.7" fill="#231815">(−0.37, −0.33)</text>
<text x="233.70" y="500.40" font-size="11.7" fill="#231815">(0.45, −0.02)</text>
<rect x="38.7" y="380.5" width="285.6" height="231.0" fill="none" stroke="#111" stroke-width="1.6"/>
<line x1="32.2" y1="380.9" x2="38.7" y2="380.9" stroke="#111" stroke-width="1.4"/>
<text x="31.00" y="386.25" font-size="13.6" fill="#231815" text-anchor="end">0.5</text>
<line x1="32.2" y1="473.2" x2="38.7" y2="473.2" stroke="#111" stroke-width="1.4"/>
<text x="26.80" y="478.50" font-size="13.6" fill="#231815" text-anchor="end">0</text>
<line x1="32.2" y1="565.5" x2="38.7" y2="565.5" stroke="#111" stroke-width="1.4"/>
<text x="31.30" y="570.75" font-size="13.6" fill="#231815" text-anchor="end">−0.5</text>
<line x1="86.5" y1="611.5" x2="86.5" y2="618.0" stroke="#111" stroke-width="1.4"/>
<text x="86.55" y="629.00" font-size="13.6" fill="#231815" text-anchor="middle">−0.5</text>
<line x1="181.6" y1="611.5" x2="181.6" y2="618.0" stroke="#111" stroke-width="1.4"/>
<text x="181.90" y="629.00" font-size="13.6" fill="#231815" text-anchor="middle">0</text>
<line x1="276.6" y1="611.5" x2="276.6" y2="618.0" stroke="#111" stroke-width="1.4"/>
<text x="276.65" y="629.00" font-size="13.6" fill="#231815" text-anchor="middle">0.5</text>
<text x="181.40" y="651.00" font-size="13.5" fill="#231815" text-anchor="middle">X</text>
<text x="0.20" y="493.80" font-size="14.5" fill="#231815">Y</text>
<rect x="395.30" y="569.80" width="14.16" height="41.60" fill="#b9cfc4" stroke="#8e9f96" stroke-width="0.7"/>
<rect x="411.66" y="472.74" width="14.16" height="138.66" fill="#b9cfc4" stroke="#8e9f96" stroke-width="0.7"/>
<rect x="428.02" y="429.99" width="14.16" height="181.41" fill="#b9cfc4" stroke="#8e9f96" stroke-width="0.7"/>
<rect x="444.38" y="425.36" width="14.16" height="186.04" fill="#b9cfc4" stroke="#8e9f96" stroke-width="0.7"/>
<rect x="460.74" y="440.39" width="14.16" height="171.01" fill="#b9cfc4" stroke="#8e9f96" stroke-width="0.7"/>
<rect x="477.09" y="492.38" width="14.16" height="119.02" fill="#b9cfc4" stroke="#8e9f96" stroke-width="0.7"/>
<rect x="493.45" y="510.87" width="14.16" height="100.53" fill="#b9cfc4" stroke="#8e9f96" stroke-width="0.7"/>
<rect x="509.81" y="550.16" width="14.16" height="61.24" fill="#b9cfc4" stroke="#8e9f96" stroke-width="0.7"/>
<rect x="526.17" y="558.25" width="14.16" height="53.15" fill="#b9cfc4" stroke="#8e9f96" stroke-width="0.7"/>
<rect x="542.53" y="581.36" width="14.16" height="30.04" fill="#b9cfc4" stroke="#8e9f96" stroke-width="0.7"/>
<rect x="558.89" y="592.91" width="14.16" height="18.49" fill="#b9cfc4" stroke="#8e9f96" stroke-width="0.7"/>
<rect x="575.25" y="598.69" width="14.16" height="12.71" fill="#b9cfc4" stroke="#8e9f96" stroke-width="0.7"/>
<rect x="591.61" y="604.47" width="14.16" height="6.93" fill="#b9cfc4" stroke="#8e9f96" stroke-width="0.7"/>
<rect x="607.97" y="607.93" width="14.16" height="3.47" fill="#b9cfc4" stroke="#8e9f96" stroke-width="0.7"/>
<rect x="624.33" y="610.24" width="14.16" height="1.16" fill="#b9cfc4" stroke="#8e9f96" stroke-width="0.7"/>
<rect x="657.04" y="609.09" width="14.16" height="2.31" fill="#b9cfc4" stroke="#8e9f96" stroke-width="0.7"/>
<text x="402.38" y="567.80" font-size="11.3" fill="#231815" text-anchor="middle">36</text>
<text x="418.74" y="470.74" font-size="11.3" fill="#231815" text-anchor="middle">120</text>
<text x="435.10" y="427.99" font-size="11.3" fill="#231815" text-anchor="middle">157</text>
<text x="451.46" y="423.36" font-size="11.3" fill="#231815" text-anchor="middle">161</text>
<text x="467.82" y="438.39" font-size="11.3" fill="#231815" text-anchor="middle">148</text>
<text x="484.17" y="490.38" font-size="11.3" fill="#231815" text-anchor="middle">103</text>
<text x="500.53" y="508.87" font-size="11.3" fill="#231815" text-anchor="middle">87</text>
<text x="516.89" y="548.16" font-size="11.3" fill="#231815" text-anchor="middle">53</text>
<text x="533.25" y="556.25" font-size="11.3" fill="#231815" text-anchor="middle">46</text>
<text x="549.61" y="579.36" font-size="11.3" fill="#231815" text-anchor="middle">26</text>
<text x="565.97" y="590.91" font-size="11.3" fill="#231815" text-anchor="middle">16</text>
<text x="582.33" y="596.69" font-size="11.3" fill="#231815" text-anchor="middle">11</text>
<text x="598.69" y="602.47" font-size="11.3" fill="#231815" text-anchor="middle">6</text>
<text x="615.05" y="605.93" font-size="11.3" fill="#231815" text-anchor="middle">3</text>
<text x="631.41" y="608.24" font-size="11.3" fill="#231815" text-anchor="middle">1</text>
<text x="664.12" y="607.09" font-size="11.3" fill="#231815" text-anchor="middle">2</text>
<polyline points="394.50,573.03 395.45,571.58 396.40,570.10 397.35,568.58 398.30,567.02 399.25,565.43 400.20,563.81 401.15,562.15 402.10,560.46 403.05,558.74 404.00,556.98 404.95,555.19 405.90,553.37 406.85,551.52 407.80,549.63 408.75,547.72 409.70,545.79 410.65,543.82 411.60,541.83 412.55,539.81 413.50,537.77 414.45,535.71 415.40,533.63 416.35,531.53 417.30,529.41 418.25,527.27 419.20,525.12 420.15,522.95 421.10,520.78 422.05,518.59 423.00,516.40 423.95,514.20 424.90,512.00 425.85,509.79 426.80,507.59 427.75,505.39 428.70,503.19 429.65,501.00 430.60,498.82 431.55,496.65 432.50,494.49 433.45,492.35 434.40,490.22 435.35,488.12 436.30,486.04 437.25,483.99 438.20,481.96 439.15,479.96 440.10,478.00 441.05,476.07 442.00,474.17 442.95,472.32 443.90,470.51 444.85,468.74 445.80,467.02 446.75,465.35 447.70,463.72 448.65,462.15 449.60,460.64 450.55,459.18 451.50,457.78 452.45,456.44 453.40,455.16 454.35,453.95 455.30,452.80 456.25,451.72 457.20,450.71 458.15,449.77 459.10,448.90 460.05,448.10 461.00,447.38 461.95,446.73 462.90,446.15 463.85,445.66 464.80,445.24 465.75,444.90 466.70,444.63 467.65,444.45 468.60,444.34 469.55,444.32 470.50,444.37 471.45,444.50 472.40,444.71 473.35,445.00 474.30,445.36 475.25,445.81 476.20,446.33 477.15,446.93 478.10,447.60 479.05,448.35 480.00,449.17 480.95,450.06 481.90,451.03 482.85,452.06 483.80,453.16 484.75,454.33 485.70,455.56 486.65,456.86 487.60,458.22 488.55,459.64 489.50,461.12 490.45,462.65 491.40,464.24 492.35,465.88 493.30,467.57 494.25,469.30 495.20,471.08 496.15,472.91 497.10,474.78 498.05,476.68 499.00,478.62 499.95,480.60 500.90,482.60 501.85,484.64 502.80,486.70 503.75,488.79 504.70,490.90 505.65,493.03 506.60,495.18 507.55,497.34 508.50,499.51 509.45,501.70 510.40,503.89 511.35,506.09 512.30,508.29 513.25,510.50 514.20,512.70 515.15,514.91 516.10,517.10 517.05,519.29 518.00,521.48 518.95,523.65 519.90,525.81 520.85,527.96 521.80,530.09 522.75,532.20 523.70,534.30 524.65,536.37 525.60,538.43 526.55,540.46 527.50,542.47 528.45,544.45 529.40,546.41 530.35,548.34 531.30,550.24 532.25,552.11 533.20,553.95 534.15,555.76 535.10,557.54 536.05,559.29 537.00,561.01 537.95,562.69 538.90,564.33 539.85,565.95 540.80,567.53 541.75,569.07 542.70,570.58 543.65,572.05 544.60,573.49 545.55,574.89 546.50,576.26 547.45,577.59 548.40,578.89 549.35,580.15 550.30,581.38 551.25,582.57 552.20,583.73 553.15,584.86 554.10,585.95 555.05,587.01 556.00,588.03 556.95,589.02 557.90,589.98 558.85,590.91 559.80,591.81 560.75,592.68 561.70,593.51 562.65,594.32 563.60,595.10 564.55,595.85 565.50,596.58 566.45,597.27 567.40,597.94 568.35,598.59 569.30,599.21 570.25,599.80 571.20,600.37 572.15,600.92 573.10,601.45 574.05,601.95 575.00,602.43 575.95,602.89 576.90,603.34 577.85,603.76 578.80,604.16 579.75,604.55 580.70,604.92 581.65,605.27 582.60,605.60 583.55,605.92 584.50,606.23 585.45,606.52 586.40,606.79 587.35,607.05 588.30,607.30 589.25,607.54 590.20,607.76 591.15,607.98 592.10,608.18 593.05,608.37 594.00,608.55 594.95,608.72 595.90,608.89 596.85,609.04 597.80,609.19 598.75,609.32 599.70,609.45 600.65,609.58 601.60,609.69 602.55,609.80 603.50,609.91 604.45,610.00 605.40,610.09 606.35,610.18 607.30,610.26 608.25,610.34 609.20,610.41 610.15,610.47 611.10,610.54 612.05,610.60 613.00,610.65 613.95,610.70 614.90,610.75 615.85,610.80 616.80,610.84 617.75,610.88 618.70,610.92 619.65,610.95 620.60,610.98 621.55,611.01 622.50,611.04 623.45,611.07 624.40,611.09 625.35,611.12 626.30,611.14 627.25,611.16 628.20,611.18 629.15,611.19 630.10,611.21 631.05,611.22 632.00,611.24 632.95,611.25 633.90,611.26 634.85,611.27 635.80,611.28 636.75,611.29 637.70,611.30 638.65,611.31 639.60,611.32 640.55,611.32 641.50,611.33 642.45,611.34 643.40,611.34 644.35,611.35 645.30,611.35 646.25,611.35 647.20,611.36 648.15,611.36 649.10,611.36 650.05,611.37 651.00,611.37 651.95,611.37 652.90,611.38 653.85,611.38 654.80,611.38 655.75,611.38 656.70,611.38 657.65,611.38 658.60,611.39 659.55,611.39 660.50,611.39 661.45,611.39 662.40,611.39 663.35,611.39 664.30,611.39 665.25,611.39 666.20,611.39 667.15,611.39 668.10,611.39 669.05,611.40 670.00,611.40 670.95,611.40 671.90,611.40 672.85,611.40 673.80,611.40 674.75,611.40 675.70,611.40 676.65,611.40 677.60,611.40 678.55,611.40 679.50,611.40" fill="none" stroke="#3d7d6a" stroke-width="1.5"/>
<path d="M394.4 380.3 V611.4 H680.0 V380.3 Z" fill="none" stroke="#111" stroke-width="1.6"/>
<line x1="388.4" y1="611.4" x2="394.4" y2="611.4" stroke="#111" stroke-width="1.4"/>
<text x="388.90" y="616.60" font-size="13.6" fill="#231815" text-anchor="end">0</text>
<line x1="388.4" y1="553.6" x2="394.4" y2="553.6" stroke="#111" stroke-width="1.4"/>
<text x="388.90" y="558.83" font-size="13.6" fill="#231815" text-anchor="end">50</text>
<line x1="388.4" y1="495.8" x2="394.4" y2="495.8" stroke="#111" stroke-width="1.4"/>
<text x="388.90" y="501.05" font-size="13.6" fill="#231815" text-anchor="end">100</text>
<line x1="388.4" y1="438.1" x2="394.4" y2="438.1" stroke="#111" stroke-width="1.4"/>
<text x="388.90" y="443.27" font-size="13.6" fill="#231815" text-anchor="end">150</text>
<line x1="388.4" y1="380.3" x2="394.4" y2="380.3" stroke="#111" stroke-width="1.4"/>
<text x="388.90" y="385.50" font-size="13.6" fill="#231815" text-anchor="end">200</text>
<line x1="394.5" y1="611.4" x2="394.5" y2="617.4" stroke="#111" stroke-width="1.4"/>
<text x="394.70" y="629.00" font-size="13.6" fill="#231815" text-anchor="middle">0</text>
<line x1="451.5" y1="611.4" x2="451.5" y2="617.4" stroke="#111" stroke-width="1.4"/>
<text x="452.60" y="629.00" font-size="13.6" fill="#231815" text-anchor="middle">0.05</text>
<line x1="508.5" y1="611.4" x2="508.5" y2="617.4" stroke="#111" stroke-width="1.4"/>
<text x="511.60" y="629.00" font-size="13.6" fill="#231815" text-anchor="middle">0.10</text>
<line x1="565.5" y1="611.4" x2="565.5" y2="617.4" stroke="#111" stroke-width="1.4"/>
<text x="565.00" y="629.00" font-size="13.6" fill="#231815" text-anchor="middle">0.15</text>
<line x1="622.5" y1="611.4" x2="622.5" y2="617.4" stroke="#111" stroke-width="1.4"/>
<text x="618.60" y="629.00" font-size="13.6" fill="#231815" text-anchor="middle">0.20</text>
<line x1="679.5" y1="611.4" x2="679.5" y2="617.4" stroke="#111" stroke-width="1.4"/>
<text x="673.40" y="629.00" font-size="13.6" fill="#231815" text-anchor="middle">0.25</text>
<text x="532.20" y="651.00" font-size="13.8" fill="#231815" text-anchor="middle">Average Distance to Centroids</text>
<text x="0.00" y="0.00" font-size="13.8" fill="#231815" text-anchor="middle" transform="translate(360.8,489.6) rotate(-90)">Frequency</text>
</svg></body></html>
